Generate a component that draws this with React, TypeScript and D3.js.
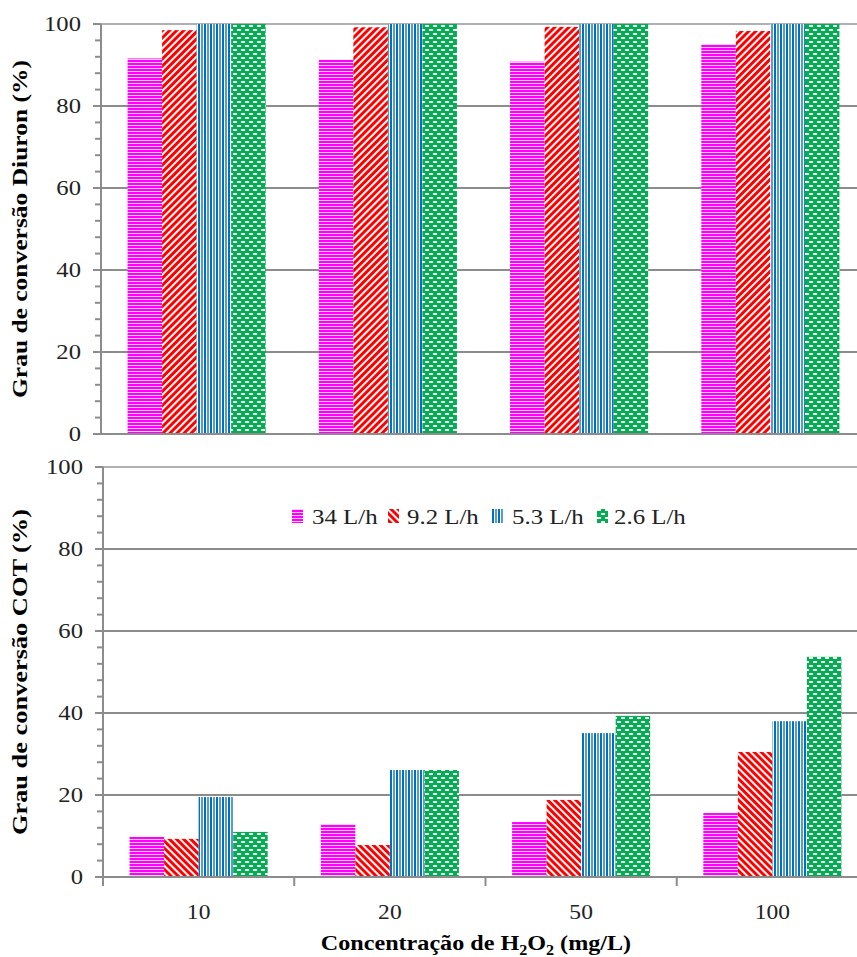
import React from "react";
import * as d3 from "d3";

const categories = ["10", "20", "50", "100"];
const seriesNames = ["34 L/h", "9.2 L/h", "5.3 L/h", "2.6 L/h"];
const diuron34 = [91.6, 91.3, 90.8, 95.1];
const diuron92 = [98.5, 99.2, 99.3, 98.3];
const diuron53 = [100, 100, 100, 100];
const diuron26 = [100, 100, 100, 100];
const cot34 = [9.8, 12.9, 13.4, 15.6];
const cot92 = [9.3, 7.8, 18.8, 30.5];
const cot53 = [19.5, 26.1, 35.1, 38.0];
const cot26 = [11.0, 26.1, 39.3, 53.7];
const yTicks = [0, 20, 40, 60, 80, 100];
const minorTicks = d3.range(0, 101, 4);

const W = 857;
const H = 957;
const GRID = "#8c8c8c";
const FONT = "'Liberation Serif', 'Times New Roman', serif";

const topSeries = [diuron34, diuron92, diuron53, diuron26];
const botSeries = [cot34, cot92, cot53, cot26];

function Patterns() {
  return (
    <defs>
      <pattern id="pPink" width="4" height="3" patternUnits="userSpaceOnUse">
        <rect width="4" height="3" fill="#ffd0ff" />
        <rect width="4" height="2" fill="#ff00ff" />
      </pattern>
      <pattern id="pRedUp" width="5" height="5" patternUnits="userSpaceOnUse" patternTransform="rotate(45)">
        <rect width="5" height="5" fill="#ffffff" />
        <rect width="3" height="5" fill="#ff0000" />
      </pattern>
      <pattern id="pRedDown" width="5" height="5" patternUnits="userSpaceOnUse" patternTransform="rotate(-45)">
        <rect width="5" height="5" fill="#ffffff" />
        <rect width="3" height="5" fill="#ff0000" />
      </pattern>
      <pattern id="pBlue" width="6" height="6" patternUnits="userSpaceOnUse">
        <rect width="6" height="6" fill="#ffffff" />
        <rect x="0" width="2" height="6" fill="#0070c0" />
        <rect x="3" width="2" height="6" fill="#5b9bd5" />
      </pattern>
      <pattern id="pGreen" width="8" height="8" patternUnits="userSpaceOnUse">
        <rect width="8" height="8" fill="#00b050" />
        <rect x="1" y="1" width="4" height="2" fill="#ffffff" />
        <rect x="5" y="5" width="4" height="2" fill="#ffffff" />
        <rect x="-3" y="5" width="4" height="2" fill="#ffffff" />
      </pattern>
    </defs>
  );
}

function Panel({ series, x0, x1, y0, y1, redFill, catTicks, title, titleLen }) {
  const x = d3.scaleBand().domain(categories).range([x0, x1]).padding(0);
  const inner = d3.scaleBand().domain(seriesNames).range([0, x.bandwidth()]).paddingInner(0).paddingOuter(0.77);
  const y = d3.scaleLinear().domain([0, 100]).range([y0, y1]);
  const fills = ["url(#pPink)", redFill, "url(#pBlue)", "url(#pGreen)"];
  const cy = (y0 + y1) / 2;
  return (
    <g>
      {yTicks.filter((t) => t > 0).map((t) => (
        <line key={"g" + t} x1={x0} x2={W} y1={y(t)} y2={y(t)} stroke={t === 100 ? "#b0b0b0" : GRID} strokeWidth={2} />
      ))}
      {series.map((vals, si) =>
        vals.map((v, ci) => (
          <rect
            key={si + "-" + ci}
            x={(x(categories[ci]) as number) + (inner(seriesNames[si]) as number)}
            y={y(v)}
            width={inner.bandwidth()}
            height={y(0) - y(v)}
            fill={fills[si]}
          />
        ))
      )}
      <line x1={x0} x2={W} y1={y(0)} y2={y(0)} stroke={GRID} strokeWidth={2} />
      <line x1={x0} x2={x0} y1={y(0) + 1} y2={y(100)} stroke={GRID} strokeWidth={2} />
      {minorTicks.map((t) => (
        <line key={"m" + t} x1={x0 - (t % 20 === 0 ? 8 : 6)} x2={x0} y1={y(t)} y2={y(t)} stroke={GRID} strokeWidth={2} />
      ))}
      {yTicks.map((t) => (
        <text
          key={"l" + t}
          transform={`translate(${x0 - 20},${y(t) + 7}) scale(1.12,1)`}
          textAnchor="end"
          fontFamily={FONT}
          fontSize={22}
          fill="#222"
        >
          {t}
        </text>
      ))}
      {catTicks &&
        d3.range(categories.length + 1).map((i) => (
          <line key={"c" + i} x1={x0 + i * x.step()} x2={x0 + i * x.step()} y1={y(0)} y2={y(0) + 9} stroke={GRID} strokeWidth={2} />
        ))}
      {catTicks &&
        categories.map((c) => (
          <text
            key={"cl" + c}
            transform={`translate(${(x(c) as number) + x.bandwidth() / 2},${y(0) + 42}) scale(1.12,1)`}
            textAnchor="middle"
            fontFamily={FONT}
            fontSize={21}
            fill="#222"
          >
            {c}
          </text>
        ))}
      <text
        transform={`translate(27,${cy}) rotate(-90)`}
        textAnchor="middle"
        fontFamily={FONT}
        fontWeight="bold"
        fontSize={20}
        textLength={titleLen}
        lengthAdjust="spacingAndGlyphs"
        fill="#000"
      >
        {title}
      </text>
    </g>
  );
}

function Legend() {
  const items = [
    { fill: "url(#pPink)", x: 292, tx: 312 },
    { fill: "url(#pRedDown)", x: 388, tx: 407 },
    { fill: "url(#pBlue)", x: 492, tx: 512 },
    { fill: "url(#pGreen)", x: 597, tx: 614 },
  ];
  return (
    <g>
      {items.map((it, i) => (
        <g key={i}>
          <rect x={it.x} y={509} width={11} height={14} fill={it.fill} />
          <text
            transform={`translate(${it.tx},${524}) scale(1.13,1)`}
            fontFamily={FONT}
            fontSize={22}
            fill="#222"
          >
            {seriesNames[i]}
          </text>
        </g>
      ))}
    </g>
  );
}

export default function App() {
  return (
    <svg
      width={W}
      height={H}
      viewBox={`0 0 ${W} ${H}`}
      style={{ position: "absolute", left: 0, top: 0, background: "#fff" }}
    >
      <Patterns />
      <rect width={W} height={H} fill="#fff" />
      <Panel
        series={topSeries}
        x0={101}
        x1={866}
        y0={434}
        y1={24}
        redFill="url(#pRedUp)"
        catTicks={false}
        title="Grau de conversão Diuron (%)"
        titleLen={338}
      />
      <Panel
        series={botSeries}
        x0={103}
        x1={868}
        y0={877}
        y1={467}
        redFill="url(#pRedDown)"
        catTicks={true}
        title="Grau de conversão COT (%)"
        titleLen={326}
      />
      <Legend />
      <text
        transform={`translate(476,950) scale(1.15,1)`}
        textAnchor="middle"
        fontFamily={FONT}
        fontWeight="bold"
        fontSize={21}
        fill="#000"
      >
        Concentração de H
        <tspan fontSize={14} dy={5}>2</tspan>
        <tspan dy={-5}>O</tspan>
        <tspan fontSize={14} dy={5}>2</tspan>
        <tspan dy={-5}> (mg/L)</tspan>
      </text>
    </svg>
  );
}
